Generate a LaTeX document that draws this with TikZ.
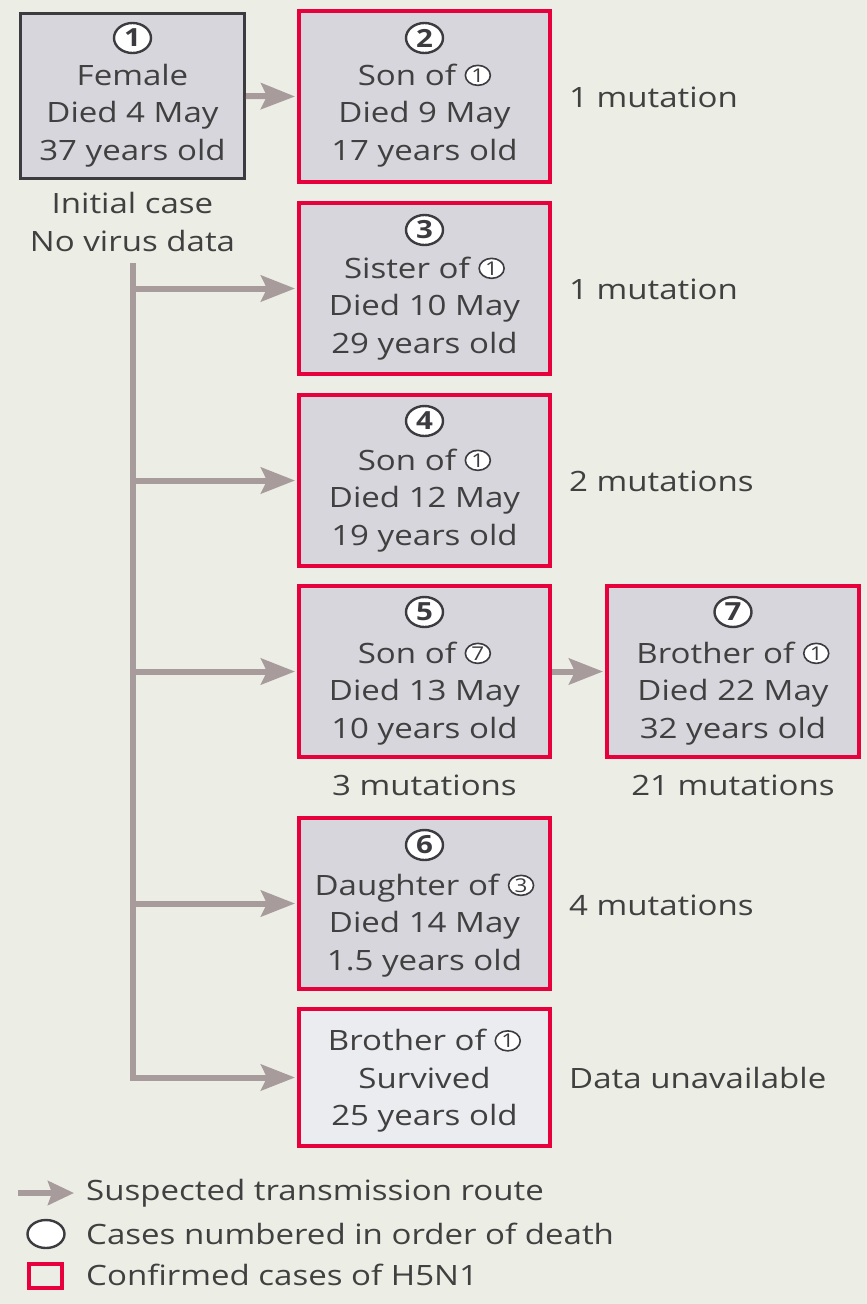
\documentclass[tikz,border=0pt]{standalone}
\usepackage{fontspec}
\setmainfont{Open Sans}[FakeStretch=1.18]
\usetikzlibrary{arrows.meta,shapes.geometric}
\definecolor{bg}{HTML}{ECEEE6}
\definecolor{boxfill}{HTML}{D6D6DC}
\definecolor{lightfill}{HTML}{EBECF0}
\definecolor{hred}{HTML}{E8003C}
\definecolor{arr}{HTML}{A89B9B}
\definecolor{txt}{HTML}{404040}
\definecolor{dk}{HTML}{3C3B40}
\newcommand\mkcn[1]{\begin{pgfpicture}\pgfsetbaseline{0pt}%
\pgfsetlinewidth{1.6pt}\pgfsetstrokecolor{dk}\pgfsetfillcolor{white}%
\pgfpathellipse{\pgfpoint{0pt}{10pt}}{\pgfpoint{12.5pt}{0pt}}{\pgfpoint{0pt}{10pt}}%
\pgfusepath{fill,stroke}%
\pgftext[at=\pgfpoint{0pt}{10pt}]{\color{dk}\fontsize{19}{19}\selectfont #1}%
\end{pgfpicture}}
\tikzset{
  bodytext/.style={font=\fontsize{28}{37.5}\selectfont, text=txt, align=center, inner sep=0pt},
  label/.style={font=\fontsize{28}{37.5}\selectfont, text=txt, inner sep=0pt},
  casebox/.style={draw=hred, line width=4pt, fill=boxfill, minimum width=251pt, minimum height=171pt, inner sep=0pt},
  numc/.style={ellipse, draw=dk, line width=2.4pt, fill=white, minimum width=37pt, minimum height=30pt, inner sep=0pt, font=\bfseries\fontsize{25}{25}\selectfont, text=dk},
  route/.style={draw=arr, line width=6pt, -{Stealth[length=34pt,width=26pt,inset=6pt]}, shorten >=2pt},
}
\begin{document}
\begin{tikzpicture}[x=1pt,y=-1pt]
\useasboundingbox[fill=bg] (0,0) rectangle (867,1304);
% boxes
\node[casebox, draw=dk, line width=3pt, minimum width=224pt, minimum height=165pt] (b1) at (132.5,96) {};
\node[casebox] (b2) at (424.5,96.5) {};
\node[casebox] (b3) at (424.5,288.5) {};
\node[casebox] (b4) at (424.5,480.5) {};
\node[casebox] (b5) at (424.5,671.5) {};
\node[casebox, minimum width=252pt] (b7) at (733,671.5) {};
\node[casebox] (b6) at (424.5,903.5) {};
\node[casebox, fill=lightfill, minimum height=137pt] (b8) at (424.5,1077.5) {};
% number circles
\node[numc] (n1) at (132.5,38) {1};
\node[numc] (n2) at (424.5,38) {2};
\node[numc] (n3) at (424.5,230) {3};
\node[numc] (n4) at (424.5,421) {4};
\node[numc] (n5) at (424.5,612) {5};
\node[numc] (n7) at (733,612) {7};
\node[numc] (n6) at (424.5,845) {6};
% box texts
\node[bodytext] (t1) at (132.5,115.5) {Female\\Died 4 May\\37 years old};
\node[bodytext] (t2) at (424.5,115.5) {Son of \mkcn{1}\\Died 9 May\\17 years old};
\node[bodytext] (t3) at (424.5,308.5) {Sister of \mkcn{1}\\Died 10 May\\29 years old};
\node[bodytext] (t4) at (424.5,500.5) {Son of \mkcn{1}\\Died 12 May\\19 years old};
\node[bodytext] (t5) at (424.5,693.5) {Son of \mkcn{7}\\Died 13 May\\10 years old};
\node[bodytext] (t7) at (733,693.5) {Brother of \mkcn{1}\\Died 22 May\\32 years old};
\node[bodytext] (t6) at (424.5,925.5) {Daughter of \mkcn{3}\\Died 14 May\\1.5 years old};
\node[bodytext] (t8) at (424.5,1081) {Brother of \mkcn{1}\\Survived\\25 years old};
% side labels
\node[bodytext] (init) at (132.5,222) {Initial case\\No virus data};
\node[label, anchor=west] (m2) at (569,97) {1 mutation};
\node[label, anchor=west] (m3) at (569,289) {1 mutation};
\node[label, anchor=west] (m4) at (569,481) {2 mutations};
\node[label] (m5) at (424.5,785) {3 mutations};
\node[label] (m7) at (733,785) {21 mutations};
\node[label, anchor=west] (m6) at (569,905) {4 mutations};
\node[label, anchor=west] (m8) at (569,1078) {Data unavailable};
% connectors
\coordinate (trunk) at (133,263);
\draw[route] (b1.east) -- (b2.west);
\draw[route] (b5.east) -- (b7.west);
\draw[route, line join=miter] (trunk) |- (b8.west);
\draw[route] (trunk |- b3.west) -- (b3.west);
\draw[route] (trunk |- b4.west) -- (b4.west);
\draw[route] (trunk |- b5.west) -- (b5.west);
\draw[route] (trunk |- b6.west) -- (b6.west);
% legend
\coordinate (la) at (18,1193);
\coordinate (lb) at (74,1193);
\draw[draw=arr, line width=6pt, -{Stealth[length=26pt,width=24pt,inset=4pt]}] (la) -- (lb);
\node[label, anchor=west] (l1) at (86,1193) {Suspected transmission route};
\node[ellipse, draw=dk, line width=2.4pt, fill=white, minimum width=37pt, minimum height=28pt, inner sep=0pt] (lc) at (46,1234) {};
\node[label, anchor=west] (l2) at (86,1234) {Cases numbered in order of death};
\node[draw=hred, line width=4pt, minimum width=33pt, minimum height=24pt, inner sep=0pt] (ls) at (45.5,1276) {};
\node[label, anchor=west] (l3) at (86,1275) {Confirmed cases of H5N1};
\end{tikzpicture}
\end{document}
